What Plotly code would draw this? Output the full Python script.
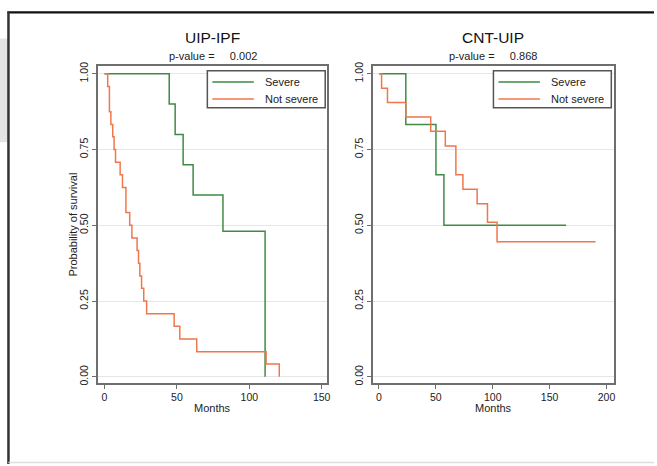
import plotly.graph_objects as go

# ---- Data ----
# Panel 1: UIP-IPF
ipf_severe_t = [0, 44.7, 48.8, 54.3, 61.2, 81.8, 110.9]
ipf_severe_s = [1.0, 0.9, 0.8, 0.7, 0.6, 0.48, 0.0]
ipf_not_t = [0, 2.2, 3.4, 4.4, 5.7, 6.6, 7.6, 10.8, 12.4, 14.8, 17.4, 18.9,
             22.5, 23.5, 24.4, 25.6, 27.1, 29.1, 48.1, 52.0, 63.7, 111.6, 120.7]
ipf_not_s = [1.0, 0.958, 0.875, 0.833, 0.792, 0.75, 0.708, 0.667, 0.625, 0.542,
             0.5, 0.458, 0.417, 0.375, 0.333, 0.292, 0.25, 0.208, 0.167, 0.125,
             0.083, 0.042, 0.0]
# Panel 2: CNT-UIP
cnt_severe_t = [0, 23.6, 50.1, 57.1, 164.5]
cnt_severe_s = [1.0, 0.833, 0.667, 0.5, 0.5]
cnt_not_t = [0, 2.3, 7.5, 23.6, 45.5, 58.3, 67.6, 73.8, 86.3, 95.4, 103.8, 190.4]
cnt_not_s = [1.0, 0.952, 0.905, 0.857, 0.81, 0.762, 0.667, 0.619, 0.571, 0.51,
             0.446, 0.446]

panel_titles = ["UIP-IPF", "CNT-UIP"]
p_values = ["0.002", "0.868"]
series_names = ["Severe", "Not severe"]
y_ticks = [0, 0.25, 0.5, 0.75, 1.0]
x_ticks_1 = [0, 50, 100, 150]
x_ticks_2 = [0, 50, 100, 150, 200]

# ---- Style ----
W, H = 657, 466
FONT = "Liberation Sans, Arial, Helvetica, sans-serif"
GREEN = "#3f8a44"
ORANGE = "#f0764c"
COLORS = [GREEN, ORANGE]
AXC = "#6e6e6e"

def px(x):
    return x / W

def py(y):
    return 1 - y / H

fig = go.Figure()

line_w = 1.5
panels = [
    ("x", "y", [(ipf_severe_t, ipf_severe_s), (ipf_not_t, ipf_not_s)]),
    ("x2", "y2", [(cnt_severe_t, cnt_severe_s), (cnt_not_t, cnt_not_s)]),
]
for xa, ya, series in panels:
    for (t, s), name, col in zip(series, series_names, COLORS):
        fig.add_trace(go.Scatter(x=t, y=s, mode="lines", line_shape="hv",
                                 line=dict(color=col, width=line_w), name=name,
                                 xaxis=xa, yaxis=ya, showlegend=False,
                                 hoverinfo="skip"))

y_dom = [py(384), py(63)]

def xaxis(domain, rng, ticks, anchor):
    return dict(domain=domain, range=rng, tickvals=ticks, anchor=anchor,
                showline=True, linecolor=AXC, linewidth=1.5, mirror=True,
                ticks="outside", ticklen=4, tickcolor=AXC, tickwidth=1,
                showgrid=False, zeroline=False, fixedrange=True,
                tickfont=dict(size=10.5, color="#222", family=FONT))

def yaxis(rng, anchor):
    return dict(domain=y_dom, range=rng, tickvals=y_ticks, tickformat=".2f",
                anchor=anchor, tickangle=-90,
                showline=True, linecolor=AXC, linewidth=1.5, mirror=True,
                ticks="outside", ticklen=4, tickcolor=AXC, tickwidth=1,
                showgrid=True, gridcolor="#e6e6e6", gridwidth=1, zeroline=False,
                fixedrange=True,
                tickfont=dict(size=10.5, color="#222", family=FONT))

fig.update_layout(
    width=W, height=H,
    margin=dict(l=0, r=0, t=0, b=0),
    paper_bgcolor="white", plot_bgcolor="white",
    font=dict(family=FONT, color="#222"),
    xaxis=xaxis([px(98), px(329)], [-4.8, 154], x_ticks_1, "y"),
    yaxis=yaxis([-0.0205, 1.025], "x"),
    xaxis2=xaxis([px(374.3), px(616.7)], [-5.6, 206.5], x_ticks_2, "y2"),
    yaxis2=yaxis([-0.0205, 1.025], "x2"),
    showlegend=False,
)

annotations = []
shapes = []
centers = [213.5, 495.5]
legend_left = [208.3, 495.7]
LEG_W, LEG_TOP, LEG_BOT = 118.4, 67.7, 105
ROWS = [79.0, 96.3]
for c, t, pv, lx in zip(centers, panel_titles, p_values, legend_left):
    annotations.append(dict(x=px(c), y=py(34), xref="paper", yref="paper",
                            text=t, showarrow=False, xanchor="center", yanchor="middle",
                            font=dict(size=15.5, color="#111", family=FONT)))
    annotations.append(dict(x=px(c), y=py(52.5), xref="paper", yref="paper",
                            text="p-value =" + "\u00a0" * 5 + pv, showarrow=False,
                            xanchor="center", yanchor="middle",
                            font=dict(size=11, color="#222", family=FONT)))
    annotations.append(dict(x=px(c), y=py(409), xref="paper", yref="paper",
                            text="Months", showarrow=False, xanchor="center",
                            yanchor="middle",
                            font=dict(size=11, color="#222", family=FONT)))
    # legend box
    shapes.append(dict(type="rect", xref="paper", yref="paper",
                       x0=px(lx), x1=px(lx + LEG_W), y0=py(LEG_BOT), y1=py(LEG_TOP),
                       fillcolor="white", line=dict(color="#555", width=1.5)))
    for ry, name, col in zip(ROWS, series_names, COLORS):
        shapes.append(dict(type="line", xref="paper", yref="paper",
                           x0=px(lx + 5), x1=px(lx + 46.7), y0=py(ry), y1=py(ry),
                           line=dict(color=col, width=1.5)))
        annotations.append(dict(x=px(lx + 55.7), y=py(ry), xref="paper", yref="paper",
                                text=name, showarrow=False, xanchor="left",
                                yanchor="middle",
                                font=dict(size=11, color="#222", family=FONT)))

annotations.append(dict(x=px(73.3), y=py(223.5), xref="paper", yref="paper",
                        text="Probability of survival", showarrow=False, textangle=-90,
                        xanchor="center", yanchor="middle",
                        font=dict(size=11, color="#222", family=FONT)))
fig.update_layout(annotations=annotations)

shapes += [
    # grey box left behind frame
    dict(type="rect", xref="paper", yref="paper", x0=0, x1=px(8), y0=py(140), y1=py(35),
         fillcolor="#e4e4e4", line=dict(width=0), layer="below"),
    # frame top
    dict(type="line", xref="paper", yref="paper", x0=px(7.5), x1=1, y0=py(8.5), y1=py(8.5),
         line=dict(color="#111", width=2.2)),
    # frame left
    dict(type="line", xref="paper", yref="paper", x0=px(8.5), x1=px(8.5), y0=0, y1=py(7.5),
         line=dict(color="#333", width=2.5)),
    # faint bottom line
    dict(type="line", xref="paper", yref="paper", x0=px(8.5), x1=1, y0=py(464.5), y1=py(464.5),
         line=dict(color="#dddddd", width=1.5)),
]
fig.update_layout(shapes=shapes)

fig.write_html("out.html", config={"displayModeBar": False},
               post_script="document.body.style.margin='0';document.body.style.overflow='hidden';")
